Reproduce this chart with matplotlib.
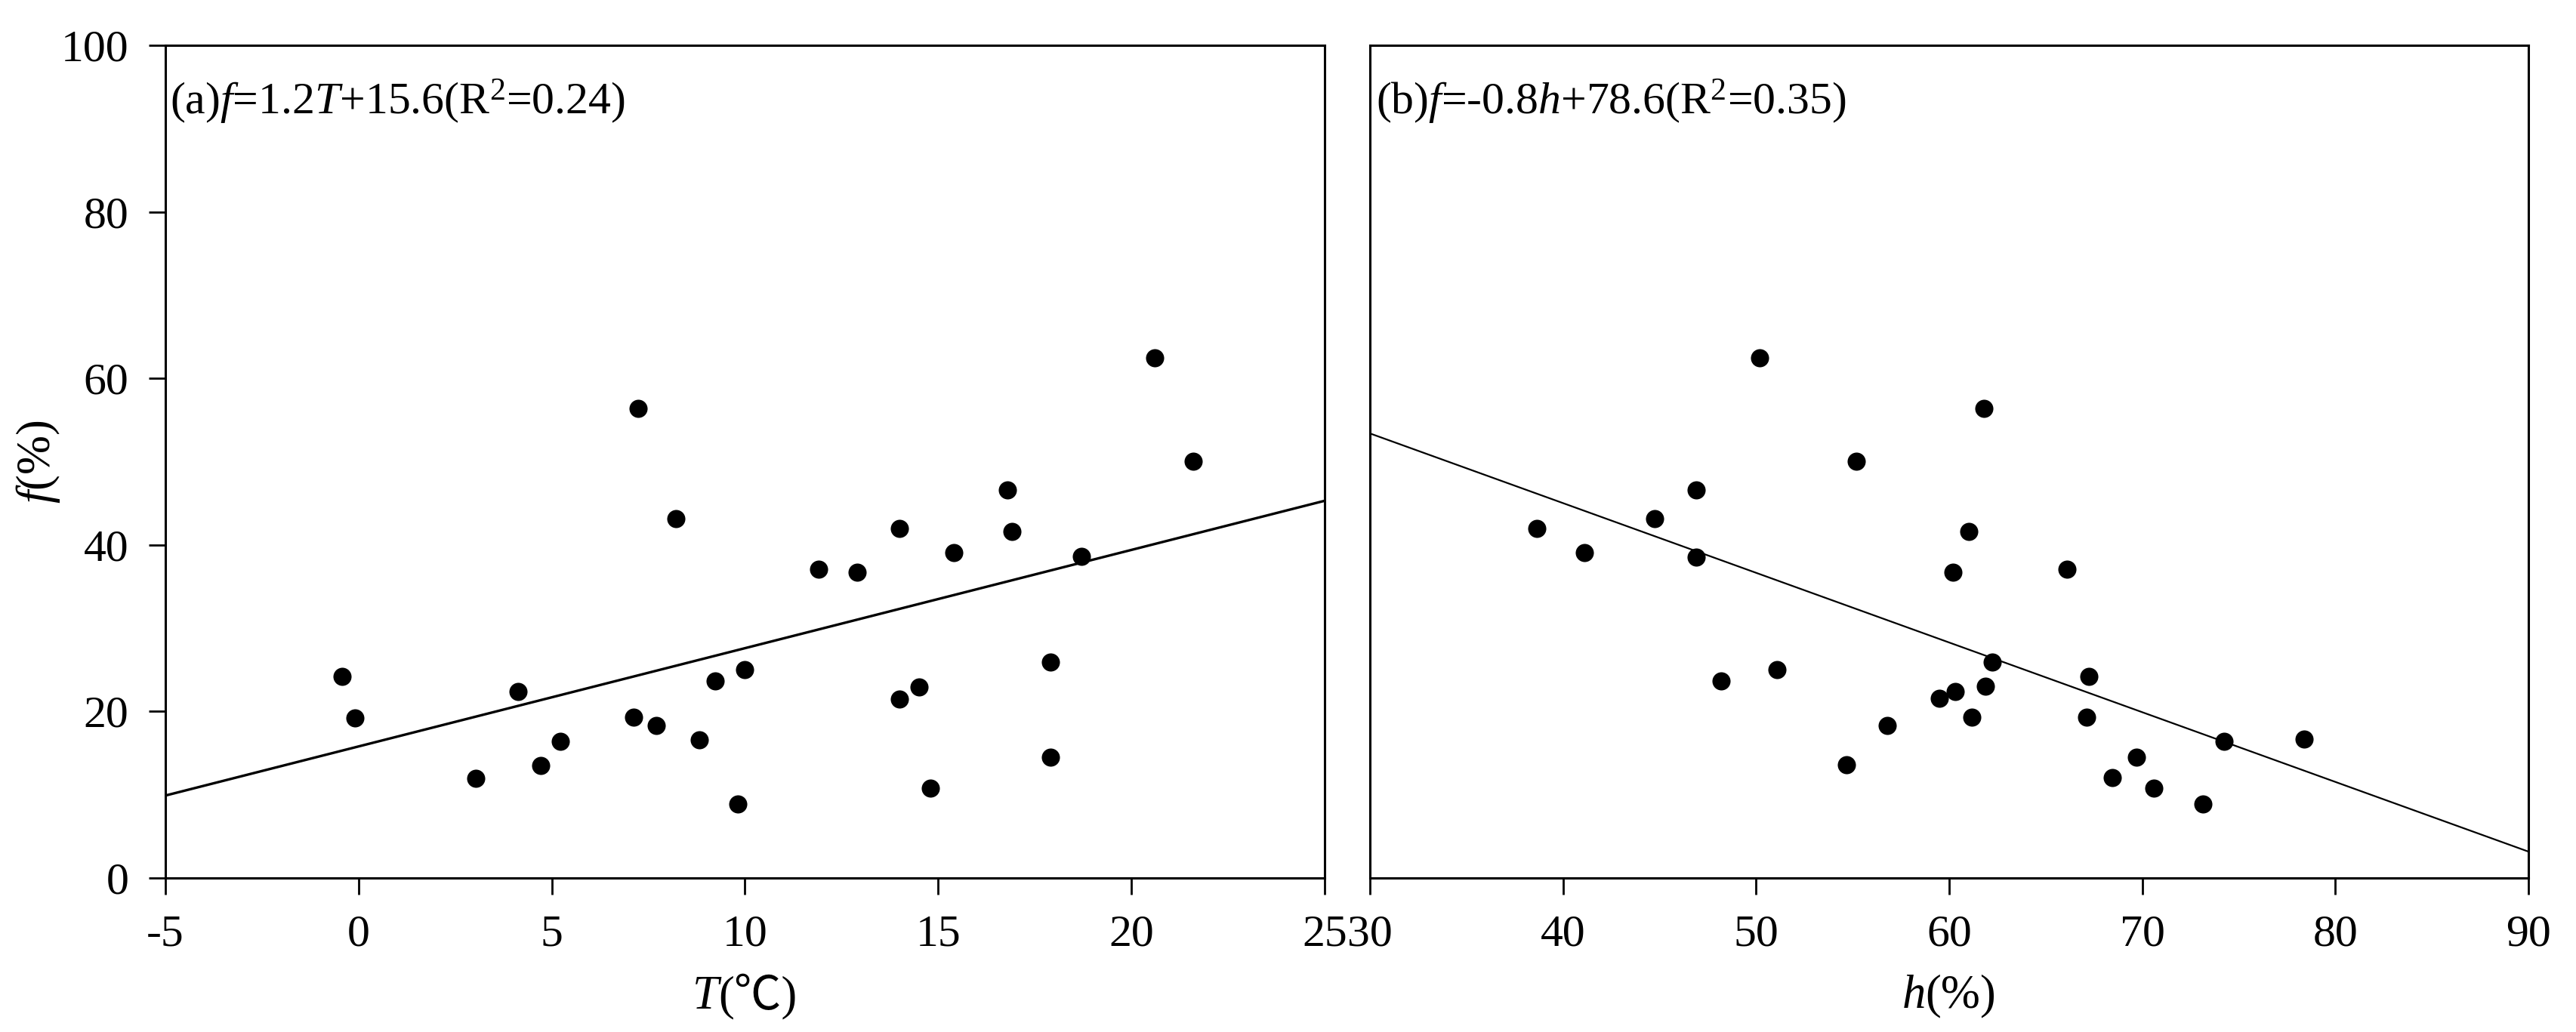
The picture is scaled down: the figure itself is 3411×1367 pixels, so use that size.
import matplotlib
matplotlib.use("Agg")
import matplotlib.pyplot as plt
from matplotlib.offsetbox import TextArea, HPacker, AnnotationBbox
import numpy as np

# ---- data ----
T_vals = [-0.43, -0.09, 3.03, 4.13, 4.71, 5.22, 7.11, 7.24, 7.71, 8.21, 8.81, 9.22, 9.82, 10.0,
          11.9, 12.9, 14.0, 14.0, 14.5, 14.8, 15.4, 16.8, 16.9, 17.9, 17.9, 18.7, 20.6, 21.6]
f_T = [24.2, 19.2, 12.0, 22.4, 13.5, 16.4, 19.3, 56.4, 18.3, 43.2, 16.6, 23.7, 8.9, 25.0,
       37.1, 36.7, 42.0, 21.5, 22.9, 10.8, 39.1, 46.6, 41.6, 25.9, 14.5, 38.6, 62.5, 50.0]

h_vals = [38.64, 41.09, 44.76, 46.88, 46.88, 48.18, 50.18, 51.08, 54.70, 55.19, 56.78, 59.51,
          60.21, 60.33, 61.02, 61.19, 61.80, 61.88, 62.21, 66.12, 67.10, 67.22, 68.44, 69.71,
          70.60, 73.13, 74.23, 78.39]
f_h = [42.0, 39.1, 43.2, 46.6, 38.5, 23.7, 62.5, 25.0, 13.6, 50.0, 18.3, 21.6,
       36.7, 22.4, 41.6, 19.3, 56.4, 23.0, 25.9, 37.1, 19.3, 24.2, 12.1, 14.5,
       10.8, 8.9, 16.4, 16.7]

fit_T = (1.18, 15.8)     # slope, intercept as drawn
fit_h = (-0.837, 78.5)

xticks_T = [-5, 0, 5, 10, 15, 20, 25]
xticks_h = [30, 40, 50, 60, 70, 80, 90]
yticks = [0, 20, 40, 60, 80, 100]

label_a = r'(a)$\mathit{f}$=1.2$\mathit{T}$+15.6(R$^{2}$=0.24)'
label_b = r'(b)$\mathit{f}$=-0.8$\mathit{h}$+78.6(R$^{2}$=0.35)'

# ---- style ----
plt.rcParams['font.family'] = ['Liberation Serif', 'Noto Sans CJK SC']
plt.rcParams['mathtext.fontset'] = 'custom'
plt.rcParams['mathtext.rm'] = 'Liberation Serif'
plt.rcParams['mathtext.it'] = 'Liberation Serif:italic'
plt.rcParams['mathtext.fallback'] = 'stix'

FS = 43
FSL = 45
W, H = 3412, 1367
fig = plt.figure(figsize=(W / 100, H / 100), dpi=100)

def frac_axes(x0, x1, y0, y1):
    return fig.add_axes([x0 / W, 1 - y1 / H, (x1 - x0) / W, (y1 - y0) / H])

axA = frac_axes(219, 1754, 60, 1163)
axB = frac_axes(1814, 3348, 60, 1163)

for ax in (axA, axB):
    for sp in ax.spines.values():
        sp.set_linewidth(2.2)
        sp.set_color('black')
    ax.set_ylim(0, 100)
    ax.tick_params(axis='both', direction='out', length=16, width=2.0,
                   labelsize=FS, pad=19, top=False, right=False)

def axis_label(ax, italic, rest, y):
    ta1 = TextArea(italic, textprops=dict(fontsize=FSL, style='italic',
                                          family=['Liberation Serif']))
    ta2 = TextArea(rest, textprops=dict(fontsize=FSL,
                                        family=['Liberation Serif', 'Noto Sans CJK SC']))
    box = HPacker(children=[ta1, ta2], align='baseline', pad=0, sep=0)
    ab = AnnotationBbox(box, (0.5, y), xycoords='axes fraction', frameon=False,
                        box_alignment=(0.5, 0.5), annotation_clip=False)
    ax.add_artist(ab)

# panel a
axA.scatter(T_vals, f_T, s=300, color='black', zorder=3, linewidths=0)
xl = np.array([-5, 25])
axA.plot(xl, fit_T[0] * xl + fit_T[1], color='black', lw=2.4)
axA.set_xlim(-5, 25)
axA.set_xticks(xticks_T)
axA.set_xticklabels([str(v) for v in xticks_T])
axA.set_yticks(yticks)
axA.set_yticklabels([str(v) for v in yticks])
axis_label(axA, 'T', '(℃)', -0.142)
axA.set_ylabel(r'$\mathit{f}$(%)', fontsize=FSL)
axA.yaxis.set_label_coords(-0.089, 0.5)
axA.text(0.004, 0.917, label_a, transform=axA.transAxes, fontsize=FS,
         ha='left', va='baseline')

# panel b
axB.scatter(h_vals, f_h, s=300, color='black', zorder=3, linewidths=0)
hl = np.array([30, 90])
axB.plot(hl, fit_h[0] * hl + fit_h[1], color='black', lw=1.6)
axB.set_xlim(30, 90)
axB.set_xticks(xticks_h)
axB.set_xticklabels([str(v) for v in xticks_h])
axB.set_yticks([])
axis_label(axB, 'h', '(%)', -0.142)
axB.text(0.005, 0.917, label_b, transform=axB.transAxes, fontsize=FS,
         ha='left', va='baseline')

fig.savefig('out.png', dpi=100, facecolor='white')
